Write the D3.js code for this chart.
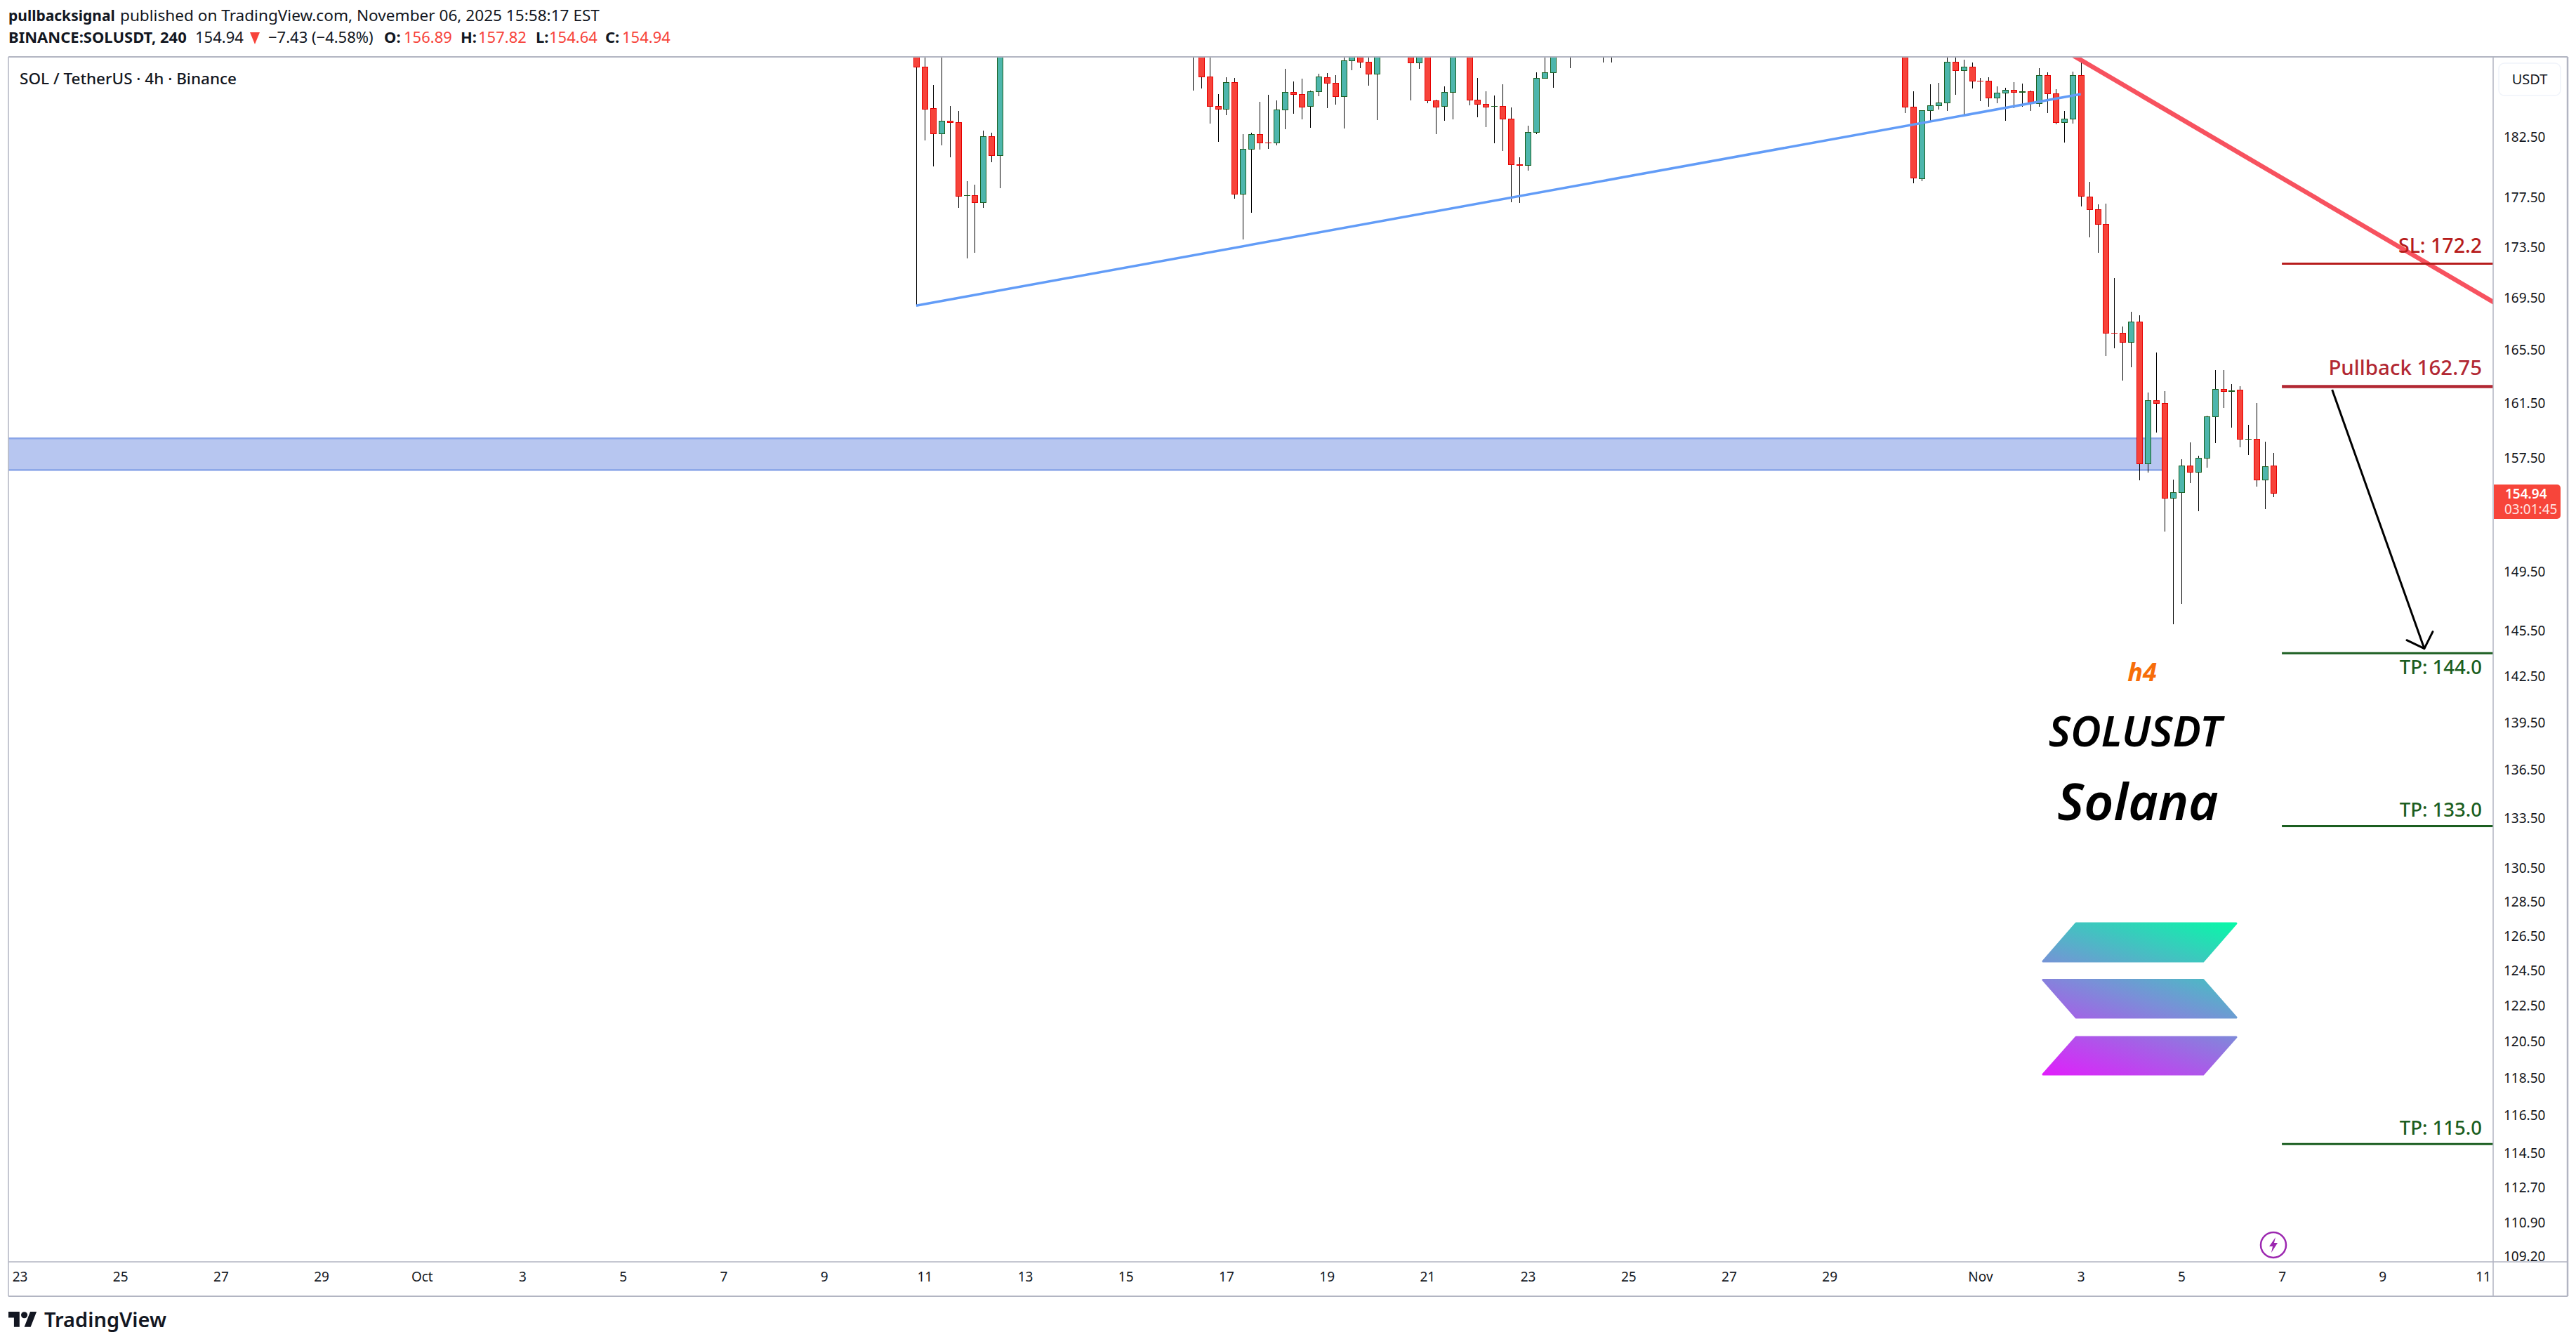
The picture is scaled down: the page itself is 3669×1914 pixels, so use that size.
<!DOCTYPE html>
<html>
<head>
<meta charset="utf-8">
<script src="https://cdn.jsdelivr.net/npm/d3@7"></script>
<style>
   html, body { margin: 0; background: #fff; }
   text { font-family: "Noto Sans", "Open Sans", sans-serif; }
   .axis path, .axis line { display: none; }
   .axis text { fill: #131722; font-size: 19px; font-family: "Noto Sans", sans-serif; }
</style>
</head>
<body>
<svg id="chart" width="3669" height="1914"></svg>
<script>
'use strict';

// bars that reach into the window, 4h candles, prices
const crashStart = "2025-10-10T20:00Z";
const crashOpen = [192, 188.38, 184.83, 182.68, 183.77, 183.65, 177.58, 177.60, 177.00, 182.47, 180.87];
const crashHigh = [194, 192, 186.83, 190, 185.03, 184.62, 178.76, 178.47, 182.96, 182.78, 194];
const crashLow = [168.85, 182.13, 179.99, 181.74, 180.75, 176.59, 172.55, 172.99, 176.59, 180.32, 178.20];
const crashClose = [188.38, 184.75, 182.68, 183.77, 183.63, 177.52, 177.60, 177.00, 182.47, 180.87, 192];

const midOctStart = "2025-10-16T08:00Z";
const midOctOpen = [191, 192, 187.53, 185.01, 184.75, 187.05, 177.69, 181.39, 182.64, 181.93, 181.91, 184.69, 186.21, 186.03, 184.99, 186.25, 187.47, 186.99, 185.83, 188.90, 191.5, 188.80, 187.75, 192, 192.5, 193, 192, 188.72, 193, 185.49, 184.99, 186.19, 193, 191, 185.55, 185.19, 185.00, 185.01, 183.95, 180.15, 180.05, 182.80, 187.39, 187.87, 191.5, 192, 192, 192.5, 193, 192.5, 192];
const midOctHigh = [193, 193, 190.5, 186.05, 187.49, 187.43, 182.66, 182.78, 185.39, 185.99, 185.51, 188.21, 187.13, 187.37, 186.33, 187.79, 187.85, 187.67, 190.5, 193, 193, 190.5, 193, 193.5, 194, 194, 193, 193, 194, 185.57, 186.71, 193, 194, 192, 187.43, 186.29, 185.93, 186.87, 184.91, 180.73, 183.37, 187.95, 190.5, 193, 193, 193, 193.5, 194, 194, 193.5, 193];
const midOctLow = [186.35, 186.55, 183.55, 182.01, 184.26, 177.35, 174.06, 176.20, 181.39, 181.43, 181.74, 183.08, 184.38, 183.91, 183.20, 185.87, 184.85, 185.15, 183.14, 188.09, 188.29, 186.79, 183.83, 190.5, 191, 190.5, 185.53, 188.23, 185.27, 182.68, 183.79, 183.93, 190.5, 185.09, 184.08, 183.26, 181.88, 181.26, 177.04, 176.99, 179.63, 182.68, 187.39, 186.59, 190.5, 188.29, 190.5, 191, 190.5, 188.78, 188.78];
const midOctClose = [190.2, 187.53, 184.99, 184.75, 187.05, 177.69, 181.41, 182.64, 181.91, 181.91, 184.72, 186.21, 186.01, 184.93, 186.27, 187.53, 186.97, 185.83, 188.93, 191.5, 188.78, 187.75, 191.5, 192.5, 193, 192, 188.72, 192, 185.47, 184.93, 186.21, 192, 191, 185.53, 185.17, 184.93, 185.03, 183.93, 180.11, 180.05, 182.82, 187.41, 187.89, 191.5, 192.5, 191, 192.5, 193, 192.5, 192, 191];

const lastStart = "2025-10-30T12:00Z";
const lastOpen = [192, 184.95, 178.95, 184.64, 185.05, 185.29, 188.80, 188.05, 188.38, 187.17, 187.17, 185.71, 186.13, 186.39, 186.20, 186.27, 185.23, 187.65, 186.09, 183.67, 183.93, 187.65, 177.48, 176.45, 175.27, 166.75, 166.73, 166.01, 167.59, 157.03, 161.66, 161.45, 154.55, 154.99, 156.88, 156.41, 157.41, 160.44, 162.49, 162.33, 162.43, 158.80, 158.82, 155.85, 156.89];
const lastHigh = [193, 186.27, 184.68, 186.87, 187.01, 191, 191, 189.01, 188.76, 187.41, 187.47, 186.71, 186.57, 187.07, 186.93, 186.35, 188.27, 187.91, 186.47, 184.60, 188.01, 189.07, 178.70, 176.85, 176.93, 170.99, 167.22, 168.36, 168.09, 162.24, 165.23, 162.35, 155.89, 157.38, 158.58, 157.60, 160.53, 163.93, 163.93, 162.87, 162.71, 159.86, 161.46, 158.63, 157.82];
const lastLow = [184.46, 178.61, 178.78, 183.73, 184.77, 184.61, 186.01, 184.32, 186.55, 185.47, 184.99, 185.27, 183.79, 184.85, 184.99, 184.62, 184.97, 184.44, 183.51, 181.97, 183.55, 176.72, 174.23, 173.00, 165.00, 165.58, 163.15, 164.15, 155.85, 156.41, 159.31, 152.23, 145.86, 147.26, 155.64, 153.65, 156.74, 158.54, 161.12, 159.67, 158.23, 157.67, 155.40, 153.81, 154.64];
const lastClose = [184.93, 179.01, 184.66, 185.07, 185.31, 188.80, 188.05, 188.38, 187.15, 187.15, 185.71, 186.15, 186.39, 186.19, 186.26, 185.23, 187.65, 186.07, 183.67, 183.95, 187.65, 177.52, 176.43, 175.27, 166.73, 166.71, 166.01, 167.59, 157.03, 161.66, 161.43, 154.55, 154.96, 156.88, 156.41, 157.43, 160.46, 162.49, 162.31, 162.36, 158.80, 158.82, 155.85, 156.83, 154.94];

// price axis
const priceTicks = [182.5, 177.5, 173.5, 169.5, 165.5, 161.5, 157.5, 149.5, 145.5, 142.5, 139.5, 136.5, 133.5, 130.5, 128.5, 126.5, 124.5, 122.5, 120.5, 118.5, 116.5, 114.5, 112.7, 110.9, 109.2];
// time axis
const timeTicks = ["2025-09-23", "2025-09-25", "2025-09-27", "2025-09-29", "2025-10-01", "2025-10-03", "2025-10-05", "2025-10-07", "2025-10-09", "2025-10-11", "2025-10-13", "2025-10-15", "2025-10-17", "2025-10-19", "2025-10-21", "2025-10-23", "2025-10-25", "2025-10-27", "2025-10-29", "2025-11-01", "2025-11-03", "2025-11-05", "2025-11-07", "2025-11-09", "2025-11-11"];

// drawings on the chart
const zoneTop = 158.87;
const zoneBottom = 156.58;
const zoneFrom = "2025-09-22T12:00Z";
const zoneTo = "2025-11-04T16:00Z";
const blueFrom = ["2025-10-10T20:00Z", 168.85];
const blueTo = ["2025-11-03T00:00Z", 186.05];
const redFrom = ["2025-11-02T20:00Z", 189.42];
const redTo = ["2025-11-11T08:00Z", 168.83];
const arrowFrom = ["2025-11-08T00:00Z", 162.45];
const arrowTo = ["2025-11-09T20:00Z", 144.26];
const levelFrom = "2025-11-07T00:00Z";
const levelPrices = [172.13, 162.69, 143.95, 132.98, 114.93];
const levelLabels = ["SL: 172.2", "Pullback 162.75", "TP: 144.0", "TP: 133.0", "TP: 115.0"];

// how each level is drawn
const levelColors = ["#b71c1c", "#b22833", "#1b5e20", "#1b5e20", "#1b5e20"];
const levelWidths = [3, 4.5, 3, 3, 3];
const levelFontSizes = [28.5, 29.5, 27.5, 27.5, 27.5];
const levelLabelDy = [-15, -17, 30, -13, -13];

const width = 3669;
const height = 1914;
const PANE_LEFT = 12;
const PANE_TOP = 81;
const PANE_RIGHT = 3551;
const PANE_BOTTOM = 1797;
const OUTER_RIGHT = 3657;
const OUTER_BOTTOM = 1846;
const BAR_MS = 4 * 3600 * 1000;
const BODY_WIDTH = 8;
const RED = "#f7433a";
const BORDER = "#b2b5c2";

const svg = d3.select("#chart");
const defs = svg.append("defs");
defs.append("clipPath").attr("id", "pane").append("rect")
   .attr("x", PANE_LEFT).attr("y", PANE_TOP)
   .attr("width", PANE_RIGHT - PANE_LEFT).attr("height", PANE_BOTTOM - PANE_TOP);

const xScale = d3.scaleUtc()
   .domain([new Date("2025-09-23"), new Date("2025-11-11")])
   .range([28, 3536.5]);
const yScale = d3.scaleLog()
   .domain([108.88, 189.26])
   .range([PANE_BOTTOM, PANE_TOP]);

function makeBars(start, open, high, low, close) {
   return open.map((o, i) => ({
      time: new Date(+new Date(start) + i * BAR_MS),
      open: o, high: high[i], low: low[i], close: close[i]
   }));
}
const bars = [
   ...makeBars(crashStart, crashOpen, crashHigh, crashLow, crashClose),
   ...makeBars(midOctStart, midOctOpen, midOctHigh, midOctLow, midOctClose),
   ...makeBars(lastStart, lastOpen, lastHigh, lastLow, lastClose)
];

const pane = svg.append("g").attr("clip-path", "url(#pane)");

// support zone
pane.append("rect")
   .attr("x", xScale(new Date(zoneFrom)))
   .attr("y", yScale(zoneTop))
   .attr("width", xScale(new Date(zoneTo)) - xScale(new Date(zoneFrom)))
   .attr("height", yScale(zoneBottom) - yScale(zoneTop))
   .attr("fill", "#b7c6f0")
   .attr("stroke", "#8aa5e8")
   .attr("stroke-width", 2.5);

// candles
const candle = pane.append("g").selectAll("g")
   .data(bars)
   .enter()
   .append("g")
   .attr("shape-rendering", "crispEdges");
candle.append("line")
   .attr("x1", d => Math.round(xScale(d.time)) + 0.5)
   .attr("x2", d => Math.round(xScale(d.time)) + 0.5)
   .attr("y1", d => yScale(d.high))
   .attr("y2", d => yScale(d.low))
   .attr("stroke", "#000")
   .attr("stroke-width", 1);
candle.append("rect")
   .attr("x", d => Math.round(xScale(d.time)) - BODY_WIDTH / 2 + 0.5)
   .attr("y", d => yScale(Math.max(d.open, d.close)))
   .attr("width", BODY_WIDTH)
   .attr("height", d => Math.abs(yScale(d.open) - yScale(d.close)))
   .attr("fill", d => d.close >= d.open ? "#4db6ac" : RED)
   .attr("stroke", d => d.close >= d.open ? "#1b5e20" : "#e60000")
   .attr("stroke-width", 1);

// trend lines
const lineGen = d3.line().x(d => xScale(new Date(d[0]))).y(d => yScale(d[1]));
pane.append("path")
   .attr("d", lineGen([blueFrom, blueTo]))
   .attr("fill", "none").attr("stroke", "#629cf7").attr("stroke-width", 3.5);
pane.append("path")
   .attr("d", lineGen([redFrom, redTo]))
   .attr("fill", "none").attr("stroke", "#f7525f").attr("stroke-width", 6.5);

// sl / pullback / tp levels
pane.append("g").selectAll("line")
   .data(levelPrices)
   .enter()
   .append("line")
   .attr("x1", xScale(new Date(levelFrom)))
   .attr("x2", PANE_RIGHT)
   .attr("y1", d => yScale(d))
   .attr("y2", d => yScale(d))
   .attr("stroke", (d, i) => levelColors[i])
   .attr("stroke-width", (d, i) => levelWidths[i]);
svg.append("g").selectAll("text")
   .data(levelPrices)
   .enter()
   .append("text")
   .attr("x", 3535)
   .attr("y", (d, i) => yScale(d) + levelLabelDy[i])
   .attr("text-anchor", "end")
   .attr("font-size", (d, i) => levelFontSizes[i])
   .attr("font-weight", 500)
   .attr("fill", (d, i) => levelColors[i])
   .text((d, i) => levelLabels[i]);

// arrow
const tip = [xScale(new Date(arrowTo[0])), yScale(arrowTo[1])];
pane.append("path")
   .attr("d", lineGen([arrowFrom, arrowTo]))
   .attr("fill", "none").attr("stroke", "#000").attr("stroke-width", 3);
pane.append("path")
   .attr("d", `M${tip[0] - 25},${tip[1] - 12}L${tip[0]},${tip[1]}L${tip[0] + 12},${tip[1] - 24}`)
   .attr("fill", "none").attr("stroke", "#000").attr("stroke-width", 3)
   .attr("stroke-linecap", "round").attr("stroke-linejoin", "round");

// annotation text
const notes = [
   {text: "h4", x: 3051, y: 970, size: 36, weight: 700, fill: "#f76d0a"},
   {text: "SOLUSDT", x: 3041, y: 1063, size: 60, weight: 600, fill: "#000"},
   {text: "Solana", x: 3045, y: 1168, size: 73, weight: 600, fill: "#000"}
];
svg.append("g").selectAll("text")
   .data(notes)
   .enter()
   .append("text")
   .attr("x", d => d.x).attr("y", d => d.y)
   .attr("text-anchor", "middle")
   .attr("font-style", "italic")
   .attr("font-size", d => d.size)
   .attr("font-weight", d => d.weight)
   .attr("fill", d => d.fill)
   .text(d => d.text);

// solana mark
const logoGrad = defs.append("linearGradient").attr("id", "solGrad")
   .attr("gradientUnits", "userSpaceOnUse")
   .attr("x1", 2910).attr("y1", 1530).attr("x2", 3003).attr("y2", 1254);
logoGrad.append("stop").attr("offset", 0).attr("stop-color", "#e01ffb");
logoGrad.append("stop").attr("offset", 0.5).attr("stop-color", "#7a8fd8");
logoGrad.append("stop").attr("offset", 1).attr("stop-color", "#08f8a8");
const logoBands = [
   "M2957,1315H3185L3138,1369H2910Z",
   "M2910,1395.5H3138L3185,1449H2957Z",
   "M2957,1477H3185L3138,1530H2910Z"
];
svg.append("g").selectAll("path")
   .data(logoBands)
   .enter()
   .append("path")
   .attr("d", d => d)
   .attr("fill", "url(#solGrad)")
   .attr("stroke", "url(#solGrad)")
   .attr("stroke-width", 3)
   .attr("stroke-linejoin", "round");

// bolt marker
const bolt = svg.append("g").attr("transform", "translate(3238,1773)");
bolt.append("circle").attr("r", 18)
   .attr("fill", "none").attr("stroke", "#9c27b0").attr("stroke-width", 2.5);
bolt.append("path").attr("d", "M3,-11L-6,2H-1L-3,11L6,-3H1Z").attr("fill", "#9c27b0");

// frame
const frame = [
   [PANE_LEFT, PANE_TOP, OUTER_RIGHT, PANE_TOP, 2],
   [PANE_LEFT, OUTER_BOTTOM, OUTER_RIGHT, OUTER_BOTTOM, 2],
   [PANE_LEFT, PANE_TOP, PANE_LEFT, OUTER_BOTTOM, 1.5],
   [OUTER_RIGHT, PANE_TOP, OUTER_RIGHT, OUTER_BOTTOM, 2.5],
   [PANE_LEFT, PANE_BOTTOM, OUTER_RIGHT, PANE_BOTTOM, 1.5],
   [PANE_RIGHT, PANE_TOP, PANE_RIGHT, OUTER_BOTTOM, 1.5]
];
svg.append("g").selectAll("line")
   .data(frame)
   .enter()
   .append("line")
   .attr("x1", d => d[0]).attr("y1", d => d[1])
   .attr("x2", d => d[2]).attr("y2", d => d[3])
   .attr("stroke", BORDER)
   .attr("stroke-width", d => d[4]);

// axes
svg.append("g")
   .attr("class", "axis")
   .attr("transform", `translate(0,${PANE_BOTTOM})`)
   .call(d3.axisBottom(xScale)
      .tickValues(timeTicks.map(d => new Date(d)))
      .tickSize(0).tickPadding(15)
      .tickFormat(d => {
         if (d.getUTCDate() === 1) return d3.utcFormat("%b")(d);
         return d.getUTCDate();
      }));
svg.append("g")
   .attr("class", "axis")
   .attr("transform", `translate(3566,1.5)`)
   .call(d3.axisRight(yScale)
      .tickValues(priceTicks)
      .tickSize(0).tickPadding(0)
      .tickFormat(d3.format(".2f")));

// usdt button
svg.append("rect")
   .attr("x", 3559).attr("y", 90).attr("width", 88).attr("height", 46).attr("rx", 8)
   .attr("fill", "#fff").attr("stroke", "#f0f3fa").attr("stroke-width", 1.5);
svg.append("text")
   .attr("x", 3603).attr("y", 120).attr("text-anchor", "middle")
   .attr("font-size", 20).attr("fill", "#131722").text("USDT");

// last price tag
svg.append("path")
   .attr("d", "M3552,690H3642a5,5 0 0 1 5,5V734a5,5 0 0 1 -5,5H3552Z")
   .attr("fill", "#f7453a");
svg.append("text")
   .attr("x", 3568).attr("y", 709.5)
   .attr("font-size", 19).attr("font-weight", 600).attr("fill", "#fff").text("154.94");
svg.append("text")
   .attr("x", 3567).attr("y", 731.5)
   .attr("font-size", 19).attr("fill", "#ffe3e0").text("03:01:45");

// header
const header = [
   {x: 12, y: 30, s: 21, t: "pullbacksignal", w: 700, c: "#131722"},
   {x: 171, y: 30, s: 22.6, t: "published on TradingView.com, November 06, 2025 15:58:17 EST", w: 400, c: "#131722"},
   {x: 12, y: 61, s: 22, t: "BINANCE:SOLUSDT, 240", w: 700, c: "#131722"},
   {x: 278, y: 61, s: 22, t: "154.94", w: 400, c: "#131722"},
   {x: 382, y: 61, s: 22, t: "\u22127.43 (\u22124.58%)", w: 400, c: "#131722"},
   {x: 547, y: 61, s: 22, t: "O:", w: 700, c: "#131722"},
   {x: 575, y: 61, s: 22, t: "156.89", w: 400, c: RED},
   {x: 656, y: 61, s: 22, t: "H:", w: 700, c: "#131722"},
   {x: 681, y: 61, s: 22, t: "157.82", w: 400, c: RED},
   {x: 763, y: 61, s: 22, t: "L:", w: 700, c: "#131722"},
   {x: 782, y: 61, s: 22, t: "154.64", w: 400, c: RED},
   {x: 862, y: 61, s: 22, t: "C:", w: 700, c: "#131722"},
   {x: 886, y: 61, s: 22, t: "154.94", w: 400, c: RED},
   {x: 28, y: 120, s: 22.5, t: "SOL / TetherUS \u00b7 4h \u00b7 Binance", w: 500, c: "#131722"}
];
svg.append("g").selectAll("text")
   .data(header)
   .enter()
   .append("text")
   .attr("x", d => d.x).attr("y", d => d.y)
   .attr("font-size", d => d.s)
   .attr("font-weight", d => d.w)
   .attr("fill", d => d.c)
   .text(d => d.t);
svg.append("path").attr("d", "M356,46H370L363,63Z").attr("fill", RED);

// footer logo
svg.append("path")
   .attr("d", "M14 22H7V11H0V4h14v18ZM28 22h-8l7.5-18h8L28 22Z")
   .attr("transform", "translate(12,1863) scale(1.13,1.22)")
   .attr("fill", "#131722");
svg.append("circle")
   .attr("cx", 12 + 20 * 1.13).attr("cy", 1863 + 8 * 1.22).attr("r", 4.6)
   .attr("fill", "#131722");
svg.append("text")
   .attr("x", 63).attr("y", 1890)
   .attr("font-size", 29).attr("font-weight", 600).attr("fill", "#131722")
   .text("TradingView");
</script>
</body>
</html>
